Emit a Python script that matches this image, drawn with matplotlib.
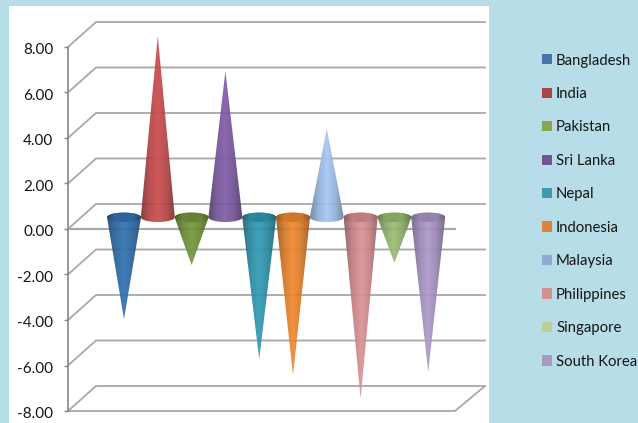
import numpy as np
import matplotlib
matplotlib.use("Agg")
import matplotlib.pyplot as plt
from matplotlib.colors import LinearSegmentedColormap, to_rgb
from matplotlib.patches import PathPatch, Rectangle
from matplotlib.path import Path
from matplotlib.transforms import ScaledTranslation

plt.rcParams['font.family'] = ['Lato', 'DejaVu Sans']

countries = ["Bangladesh", "India", "Pakistan", "Sri Lanka", "Nepal",
             "Indonesia", "Malaysia", "Philippines", "Singapore", "South Korea"]
values = [-4.48, 7.96, -2.1, 6.42, -6.24, -6.95, 3.9, -7.96, -2.0, -6.8]
cone_colors = ["#2F6CA8", "#C0494A", "#6F9138", "#7A58A0", "#2E93AB",
               "#E5822C", "#9DBDE8", "#D08A8E", "#92B46E", "#A491C0"]
legend_colors = ["#4674AB", "#AB4644", "#8BA54C", "#735595", "#4199B1",
                 "#DD843B", "#94A9CF", "#D39190", "#BBCF96", "#A99ABD"]
y_ticks = [-8, -6, -4, -2, 0, 2, 4, 6, 8]

W, H = 638, 423
BG = "#B7DDE8"
GRID = "#A8A8A8"
AXIS = "#868686"

fig = plt.figure(figsize=(W / 100, H / 100), dpi=100, facecolor=BG)
fig.add_artist(Rectangle((9 / W, 0), 480 / W, (H - 6) / H, transform=fig.transFigure,
                         facecolor="white", edgecolor="none", zorder=-5))

# Axes frame: the front plane of the 3-D box on the y scale, categories on x.
ax = fig.add_axes([68 / W, 1 - 411 / H, (485 - 68) / W, (411 - 47) / H])
ax.patch.set_alpha(0)
px_x = 33.8
px_y = 22.75
xlim = ((68 - 124) / px_x, (485 - 124) / px_x)
ax.set_xlim(xlim)
ax.set_ylim(-8, 8)

depth_x = 28 / px_x
depth_y = 25 / px_y
front_right = (455 - 124) / px_x
back_right = xlim[1]

# Back wall gridlines with their slanted side-wall segments.
for t in y_ticks:
    ax.plot([xlim[0], xlim[0] + depth_x, back_right], [t, t + depth_y, t + depth_y],
            color=GRID, lw=1.3, zorder=1, clip_on=False, solid_joinstyle="miter")
ax.plot([xlim[0], front_right, back_right], [-8, -8, -8 + depth_y],
        color=GRID, lw=1.3, zorder=1, clip_on=False)
ax.plot([xlim[0], front_right], [0, 0], color=GRID, lw=1.6, zorder=1.5)

# Cones: a horizontal shading gradient clipped to each cone's outline.
half_w = 17 / px_x
cap_h = 4.7 / px_y
base_y = 11.7 / px_y
arc = np.linspace(0, np.pi, 40)


def shaded(x0, x1, y0, y1, color, clip, zorder, low=0.68, high=1.06, alpha=0.93):
    rgb = np.array(to_rgb(color))
    cmap = LinearSegmentedColormap.from_list(
        "shade", [rgb * low, rgb * 0.93, np.minimum(rgb * high, 1), rgb * 0.93, rgb * low])
    grad = np.linspace(0, 1, 128).reshape(1, -1)
    im = ax.imshow(grad, cmap=cmap, extent=(x0, x1, y0, y1), aspect="auto",
                   zorder=zorder, alpha=alpha, interpolation="bilinear")
    patch = PathPatch(clip, transform=ax.transData, facecolor="none", edgecolor="none",
                      clip_on=False)
    ax.add_patch(patch)
    im.set_clip_box(fig.bbox)
    im.set_clip_path(patch)


for i, (v, c) in enumerate(zip(values, cone_colors)):
    z = 3 + i * 0.1
    sign = -1 if v > 0 else 1
    rim_x = i + half_w * np.cos(arc)
    rim_y = base_y + sign * cap_h * np.sin(arc)
    tip = v + base_y
    outline = Path(np.vstack([[i, tip], np.column_stack([rim_x, rim_y]), [i, tip]]))
    y_lo, y_hi = sorted([tip, base_y + sign * cap_h])
    shaded(i - half_w, i + half_w, y_lo, y_hi, c, outline, z)
    if v < 0:
        theta = np.linspace(0, 2 * np.pi, 80)
        cap = Path(np.column_stack([i + half_w * np.cos(theta),
                                    base_y + cap_h * np.sin(theta)]))
        shaded(i - half_w, i + half_w, base_y - cap_h, base_y + cap_h, c, cap, z + 0.05,
               low=0.68, high=0.9, alpha=1)

ax.set_xlim(xlim)
ax.set_ylim(-8, 8)

# Value axis on the front-left edge.
for s in ["top", "right", "bottom"]:
    ax.spines[s].set_visible(False)
ax.spines["left"].set_color(AXIS)
ax.spines["left"].set_linewidth(1.2)
ax.set_xticks([])
ax.set_yticks(y_ticks)
ax.set_yticklabels([f"{t:.2f}" for t in y_ticks], fontsize=11, color="#151515")
ax.tick_params(axis="y", length=3, width=1, color=AXIS, pad=7.5)
nudge = ScaledTranslation(0, -1.1 / 72, fig.dpi_scale_trans)
for lab in ax.get_yticklabels():
    lab.set_transform(lab.get_transform() + nudge)

handles = [Rectangle((0, 0), 1, 1, facecolor=c, edgecolor="none") for c in legend_colors]
fig.legend(handles, countries, loc="upper left", bbox_to_anchor=(542 / W, 1 - 53.5 / H),
           bbox_transform=fig.transFigure, frameon=False, fontsize=10.7,
           handlelength=0.7, handleheight=0.7, handletextpad=0.25,
           labelspacing=1.31, borderpad=0, borderaxespad=0, labelcolor="#151515")

fig.savefig("out.png", dpi=100, facecolor=BG)
